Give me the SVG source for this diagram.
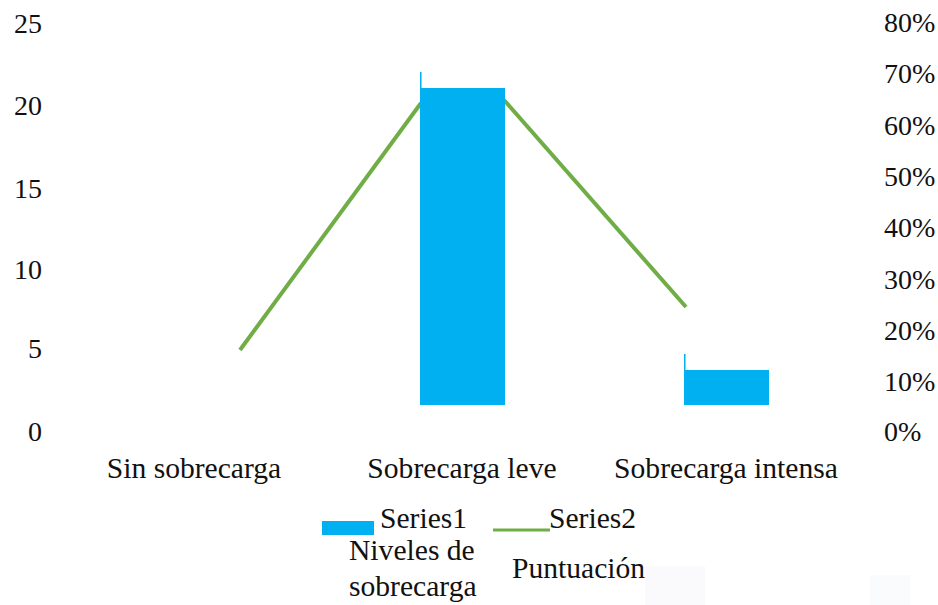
<svg xmlns="http://www.w3.org/2000/svg" width="938" height="605" viewBox="0 0 938 605">
<style>
.t{font-family:'Liberation Serif','Times New Roman','DejaVu Serif',serif;font-size:28px;fill:#111}
.l{font-size:29.6px}
.bar{fill:#00B0F0}
.ln{fill:none;stroke:#70AD47;stroke-width:4}
</style>
<rect width="938" height="605" fill="#fff"/>
<g id="watermark" opacity="0.2">
<rect x="645" y="566" width="60" height="39" fill="#e4e8ef"/>
<rect x="870" y="575" width="40" height="30" fill="#e8edf3"/>
</g>
<g id="left-axis" class="t" text-anchor="end">
<text x="42" y="33">25</text>
<text x="42" y="115">20</text>
<text x="42" y="198">15</text>
<text x="42" y="279">10</text>
<text x="42" y="358">5</text>
<text x="42" y="441">0</text>
</g>
<g id="right-axis" class="t">
<text x="884" y="32">80%</text>
<text x="884" y="83">70%</text>
<text x="884" y="135">60%</text>
<text x="884" y="186">50%</text>
<text x="884" y="237">40%</text>
<text x="884" y="289">30%</text>
<text x="884" y="340">20%</text>
<text x="884" y="391">10%</text>
<text x="884" y="441">0%</text>
</g>
<g id="connectors">
<line class="ln" x1="240" y1="350" x2="421" y2="103"/>
<line class="ln" x1="504" y1="100" x2="686" y2="307"/>
</g>
<g id="bar-leve">
<rect class="bar" x="420" y="88" width="85" height="317"/>
<rect class="bar" x="420" y="72" width="1.5" height="16"/>
</g>
<g id="bar-intensa">
<rect class="bar" x="684" y="370" width="85" height="35"/>
<rect class="bar" x="684" y="354" width="1.5" height="16"/>
</g>
<g id="categories" class="t l" text-anchor="middle">
<text x="194" y="478">Sin sobrecarga</text>
<text x="462" y="478">Sobrecarga leve</text>
<text x="726" y="478">Sobrecarga intensa</text>
</g>
<g id="legend" class="t l">
<rect class="bar" x="322" y="521" width="52" height="14"/>
<text x="380" y="528">Series1</text>
<line x1="493" y1="530" x2="550" y2="530" stroke="#70AD47" stroke-width="3"/>
<text x="549" y="528">Series2</text>
<text x="349" y="560">Niveles de</text>
<text x="349" y="596">sobrecarga</text>
<text x="512" y="578">Puntuación</text>
</g>
</svg>
